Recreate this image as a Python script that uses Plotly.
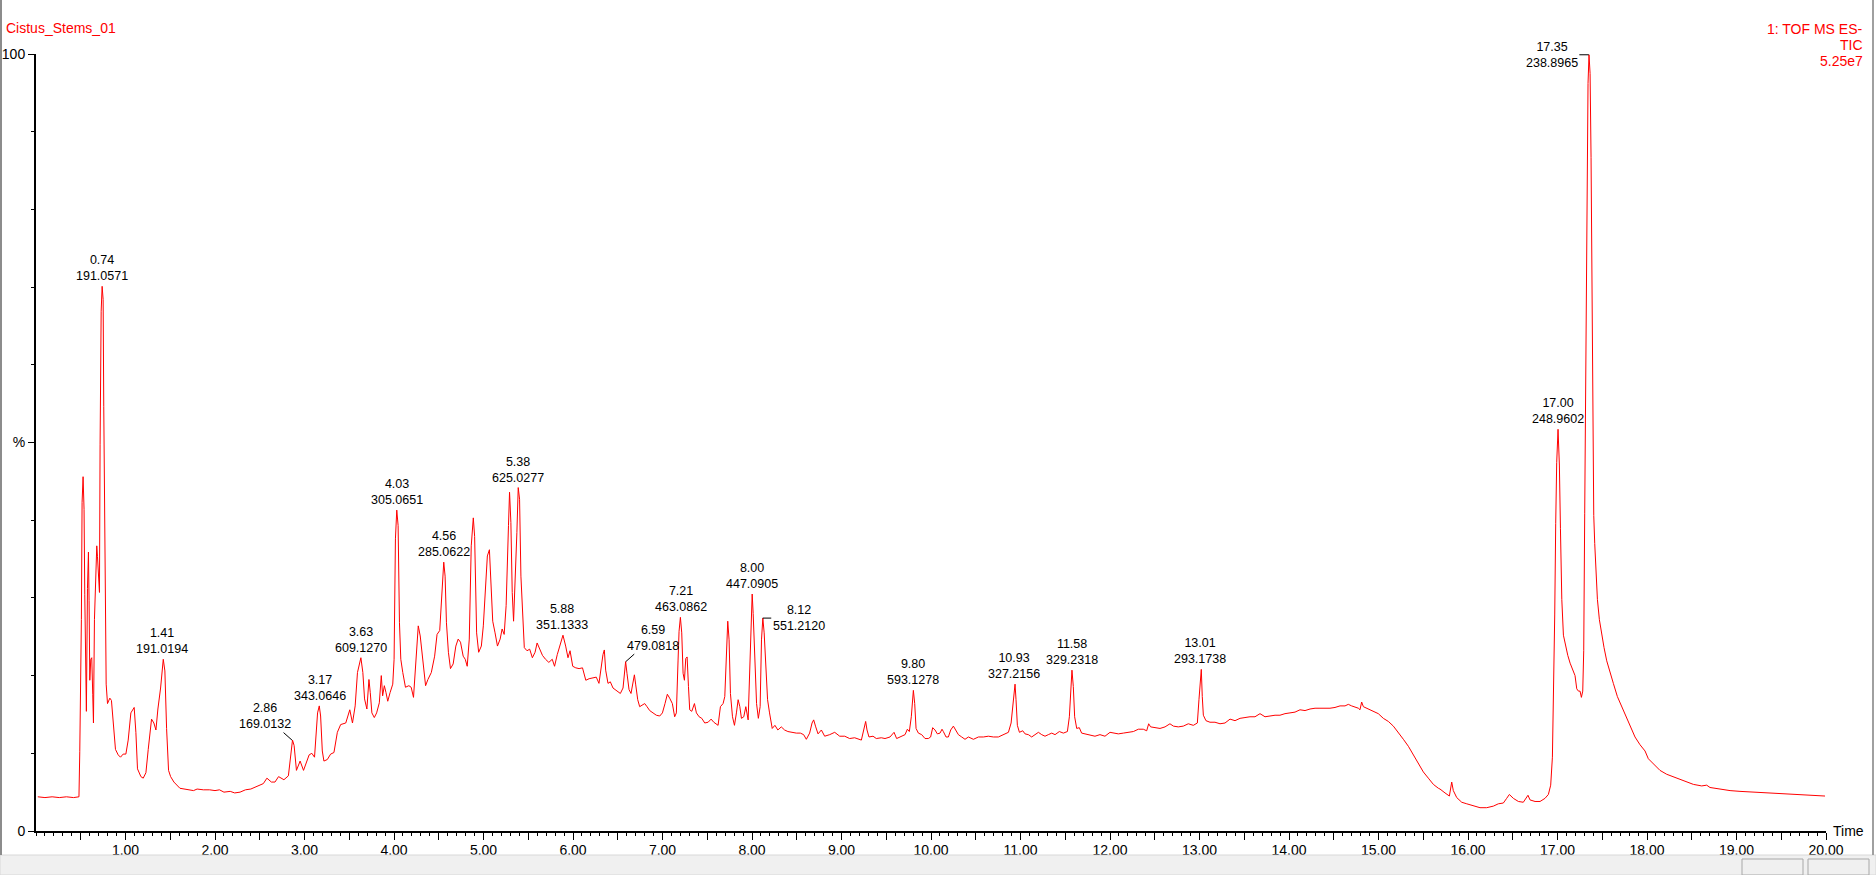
import plotly.graph_objects as go

# ---------- data ----------
rt_min = [
    0.02, 0.10, 0.18, 0.26, 0.34, 0.42, 0.48, 0.489, 0.507, 0.515, 0.526, 0.537, 0.545, 0.556, 0.563,
    0.575, 0.586, 0.593, 0.601, 0.612, 0.623, 0.634, 0.642, 0.653, 0.668, 0.679, 0.687, 0.698, 0.709,
    0.716, 0.728, 0.739, 0.750, 0.757, 0.772, 0.784, 0.799, 0.825, 0.843, 0.862, 0.888, 0.918, 0.944,
    0.974, 1.004, 1.030, 1.060, 1.097, 1.116, 1.134, 1.172, 1.198, 1.228, 1.254, 1.291, 1.317, 1.340,
    1.362, 1.392, 1.422, 1.440, 1.459, 1.481, 1.504, 1.541, 1.608, 1.70, 1.76, 1.80, 1.87, 1.94, 2.00,
    2.05, 2.10, 2.17, 2.22, 2.28, 2.34, 2.40, 2.47, 2.54, 2.58, 2.63, 2.67, 2.71, 2.77, 2.82, 2.866,
    2.884, 2.910, 2.951, 2.989, 3.052, 3.082, 3.112, 3.146, 3.165, 3.180, 3.199, 3.217, 3.255, 3.292,
    3.329, 3.367, 3.404, 3.461, 3.506, 3.536, 3.566, 3.592, 3.630, 3.652, 3.671, 3.697, 3.720, 3.735,
    3.753, 3.780, 3.806, 3.836, 3.858, 3.873, 3.892, 3.911, 3.930, 3.956, 3.986, 4.001, 4.016, 4.031,
    4.046, 4.061, 4.076, 4.098, 4.128, 4.166, 4.192, 4.218, 4.248, 4.271, 4.293, 4.323, 4.353, 4.379,
    4.417, 4.454, 4.481, 4.511, 4.533, 4.556, 4.571, 4.586, 4.608, 4.631, 4.661, 4.691, 4.717, 4.743,
    4.773, 4.796, 4.818, 4.841, 4.863, 4.886, 4.901, 4.923, 4.946, 4.976, 4.998, 5.021, 5.043, 5.066,
    5.081, 5.103, 5.129, 5.156, 5.186, 5.208, 5.231, 5.253, 5.279, 5.291, 5.306, 5.321, 5.336, 5.351,
    5.373, 5.388, 5.403, 5.418, 5.441, 5.456, 5.486, 5.516, 5.546, 5.576, 5.599, 5.629, 5.659, 5.693,
    5.730, 5.768, 5.794, 5.824, 5.861, 5.888, 5.918, 5.944, 5.967, 5.997, 6.031, 6.068, 6.106, 6.143,
    6.180, 6.218, 6.260, 6.290, 6.316, 6.335, 6.350, 6.365, 6.391, 6.417, 6.447, 6.484, 6.529, 6.559,
    6.577, 6.588, 6.603, 6.626, 6.648, 6.671, 6.686, 6.701, 6.723, 6.745, 6.775, 6.801, 6.827, 6.857,
    6.894, 6.931, 6.969, 6.999, 7.028, 7.054, 7.080, 7.110, 7.136, 7.155, 7.174, 7.185, 7.200, 7.215,
    7.230, 7.245, 7.260, 7.275, 7.290, 7.304, 7.327, 7.357, 7.379, 7.409, 7.439, 7.472, 7.510, 7.543,
    7.573, 7.621, 7.647, 7.677, 7.696, 7.714, 7.729, 7.744, 7.759, 7.782, 7.804, 7.826, 7.845, 7.864,
    7.882, 7.908, 7.931, 7.957, 7.976, 7.991, 8.002, 8.013, 8.028, 8.051, 8.071, 8.091, 8.106, 8.121,
    8.136, 8.151, 8.174, 8.196, 8.226, 8.256, 8.289, 8.327, 8.364, 8.401, 8.439, 8.495, 8.540, 8.577,
    8.607, 8.644, 8.671, 8.689, 8.712, 8.738, 8.775, 8.812, 8.868, 8.924, 8.980, 9.036, 9.091, 9.147,
    9.222, 9.248, 9.270, 9.285, 9.307, 9.352, 9.389, 9.445, 9.486, 9.542, 9.587, 9.616, 9.654, 9.710,
    9.736, 9.758, 9.780, 9.803, 9.818, 9.833, 9.859, 9.896, 9.933, 9.970, 9.996, 10.019, 10.045,
    10.071, 10.101, 10.123, 10.138, 10.168, 10.194, 10.220, 10.250, 10.280, 10.306, 10.343, 10.380,
    10.418, 10.474, 10.530, 10.585, 10.641, 10.697, 10.753, 10.809, 10.865, 10.895, 10.913, 10.928,
    10.939, 10.950, 10.965, 10.988, 11.025, 11.051, 11.088, 11.125, 11.162, 11.200, 11.237, 11.274,
    11.311, 11.349, 11.386, 11.434, 11.479, 11.524, 11.546, 11.561, 11.575, 11.590, 11.605, 11.628,
    11.657, 11.683, 11.720, 11.776, 11.832, 11.888, 11.944, 12.000, 12.037, 12.093, 12.149, 12.205,
    12.261, 12.317, 12.372, 12.410, 12.432, 12.454, 12.503, 12.559, 12.615, 12.670, 12.708, 12.763,
    12.819, 12.875, 12.931, 12.976, 12.994, 13.009, 13.020, 13.031, 13.043, 13.072, 13.117, 13.173,
    13.229, 13.285, 13.341, 13.397, 13.453, 13.508, 13.564, 13.620, 13.676, 13.732, 13.788, 13.844,
    13.899, 13.955, 14.011, 14.067, 14.123, 14.179, 14.235, 14.291, 14.346, 14.402, 14.458, 14.514,
    14.570, 14.626, 14.663, 14.700, 14.737, 14.775, 14.793, 14.812, 14.831, 14.868, 14.905, 14.950,
    14.998, 15.054, 15.110, 15.166, 15.222, 15.278, 15.334, 15.389, 15.445, 15.501, 15.557, 15.613,
    15.669, 15.687, 15.743, 15.792, 15.818, 15.836, 15.874, 15.930, 15.986, 16.060, 16.134, 16.209,
    16.283, 16.339, 16.395, 16.432, 16.462, 16.507, 16.563, 16.618, 16.648, 16.670, 16.693, 16.749,
    16.805, 16.860, 16.898, 16.924, 16.943, 16.954, 16.969, 16.980, 16.991, 17.006, 17.021, 17.033,
    17.048, 17.066, 17.089, 17.115, 17.141, 17.170, 17.196, 17.215, 17.234, 17.252, 17.267, 17.282,
    17.293, 17.304, 17.312, 17.319, 17.330, 17.341, 17.352, 17.364, 17.375, 17.382, 17.390, 17.397,
    17.405, 17.416, 17.431, 17.446, 17.468, 17.494, 17.520, 17.550, 17.587, 17.624, 17.669, 17.717,
    17.766, 17.810, 17.866, 17.922, 17.978, 18.015, 18.071, 18.145, 18.220, 18.294, 18.369, 18.443,
    18.518, 18.611, 18.667, 18.704, 18.816, 18.928, 19.039, 19.188, 19.337, 19.486, 19.635, 19.784,
    19.896, 19.989,
]
tic_pct = [
    4.4, 4.3, 4.4, 4.3, 4.4, 4.3, 4.4, 10.2, 27.2, 42.3, 45.6, 41.4, 30.4, 21.1, 15.4,
    31.2, 35.9, 29.7, 19.4, 22.1, 22.3, 17.6, 13.9, 27.2, 34.9, 36.7, 35.3, 32.9, 30.7,
    49.7, 66.9, 70.1, 68.4, 54.6, 31.7, 18.9, 16.4, 17.1, 16.8, 14.2, 10.5, 9.8, 9.5,
    9.9, 9.9, 11.7, 15.2, 15.9, 12.7, 8.0, 7.0, 6.8, 7.5, 10.5, 14.4, 13.9, 13.0,
    15.7, 18.4, 22.1, 20.6, 13.2, 7.8, 7.0, 6.3, 5.5, 5.3, 5.2, 5.4, 5.3, 5.3, 5.2,
    5.3, 5.0, 5.1, 4.9, 5.0, 5.3, 5.4, 5.7, 6.1, 6.8, 6.3, 6.3, 7.0, 6.6, 7.1, 11.7,
    11.0, 7.8, 9.0, 7.8, 9.8, 10.0, 9.5, 15.2, 16.1, 14.8, 10.3, 9.0, 9.2, 9.9,
    10.1, 12.7, 13.7, 13.9, 15.6, 13.9, 16.1, 20.4, 22.3, 20.4, 17.0, 15.7, 19.5, 17.8,
    15.2, 14.6, 15.2, 16.5, 20.0, 17.4, 18.7, 17.8, 16.7, 17.8, 18.9, 22.1, 37.6, 41.3,
    39.3, 26.8, 22.1, 20.4, 18.5, 18.7, 18.5, 17.2, 22.1, 26.4, 25.1, 22.1, 18.7, 19.5,
    20.4, 22.5, 25.3, 25.8, 30.3, 34.6, 32.8, 26.8, 23.0, 20.9, 21.5, 23.8, 24.7, 24.3,
    22.5, 22.1, 21.2, 24.7, 36.7, 40.3, 37.9, 25.5, 23.0, 23.8, 26.4, 30.3, 35.4, 36.2,
    31.5, 27.0, 25.5, 23.8, 24.7, 26.0, 25.3, 29.0, 39.3, 43.6, 39.7, 30.7, 27.0, 31.1,
    38.4, 44.2, 42.7, 32.8, 26.0, 23.6, 23.2, 23.4, 22.3, 23.0, 24.2, 23.4, 22.6, 22.1,
    21.7, 22.1, 21.2, 22.7, 24.2, 25.2, 23.8, 22.3, 23.2, 21.2, 21.0, 20.9, 21.0, 19.4,
    19.6, 19.7, 19.8, 19.0, 21.2, 22.7, 23.3, 20.7, 19.0, 19.2, 18.4, 18.1, 17.7, 18.4,
    20.7, 21.8, 20.3, 18.2, 17.7, 19.4, 20.1, 18.8, 16.9, 16.0, 16.2, 16.4, 16.0, 15.5,
    15.2, 14.9, 14.8, 15.2, 16.4, 17.6, 17.1, 16.4, 14.7, 15.2, 22.0, 25.7, 27.5, 25.5,
    20.3, 19.4, 22.2, 22.4, 18.6, 15.6, 15.4, 16.4, 15.2, 14.7, 14.5, 13.9, 14.0, 14.4,
    14.0, 13.6, 16.0, 16.4, 17.3, 22.9, 27.0, 24.6, 17.7, 14.7, 13.6, 15.2, 16.9, 16.0,
    14.5, 14.7, 16.0, 14.3, 21.2, 28.0, 30.5, 28.0, 22.9, 16.4, 14.5, 16.0, 24.6, 27.4,
    25.5, 21.2, 16.9, 15.2, 13.2, 13.6, 13.0, 13.4, 13.0, 12.8, 12.7, 12.6, 12.6, 12.4,
    11.8, 12.6, 13.9, 14.3, 13.4, 12.5, 13.0, 12.2, 12.4, 12.7, 12.2, 12.2, 11.9, 12.0,
    11.7, 13.0, 14.1, 13.0, 12.1, 12.2, 11.9, 12.0, 11.9, 12.1, 12.7, 11.9, 12.1, 12.4,
    13.1, 12.8, 14.7, 18.1, 16.4, 13.2, 12.6, 12.4, 11.9, 11.9, 12.1, 13.3, 13.0,
    12.5, 12.6, 13.1, 12.8, 12.1, 12.1, 13.0, 13.5, 12.9, 12.4, 12.1, 11.8,
    12.1, 11.8, 12.1, 12.1, 12.2, 12.1, 12.1, 12.4, 12.7, 13.9, 16.0, 18.1,
    18.9, 16.9, 13.6, 12.7, 12.9, 12.5, 12.4, 12.1, 12.4, 12.7, 12.4, 12.2,
    12.4, 12.6, 12.4, 12.8, 12.6, 12.8, 14.7, 17.7, 20.7, 18.6, 14.7, 13.2,
    13.3, 12.6, 12.5, 12.4, 12.2, 12.4, 12.2, 12.7, 12.6, 12.5, 12.6, 12.7,
    12.8, 13.1, 13.1, 12.9, 13.8, 13.4, 13.3, 13.2, 13.4, 13.8, 13.5, 13.4,
    13.5, 13.8, 13.6, 13.9, 16.9, 19.4, 20.8, 17.3, 14.9, 14.2, 14.0, 14.0,
    13.8, 13.9, 14.4, 14.2, 14.5, 14.6, 14.7, 14.7, 15.1, 14.7, 14.8, 14.9,
    14.9, 15.1, 15.2, 15.3, 15.6, 15.5, 15.7, 15.8, 15.8, 15.8, 15.8, 15.9,
    16.1, 16.1, 16.3, 16.1, 16.0, 15.8, 15.6, 16.6, 16.0, 15.8, 15.6, 15.4,
    15.1, 14.5, 14.1, 13.5, 12.7, 11.8, 10.9, 9.8, 8.7, 7.6, 6.8, 6.0,
    5.5, 5.4, 4.9, 4.5, 6.3, 5.2, 4.3, 3.7, 3.5, 3.2, 3.0, 3.0,
    3.2, 3.5, 3.6, 4.2, 4.7, 4.2, 3.8, 3.7, 4.2, 4.6, 4.0, 3.8,
    3.8, 4.2, 4.7, 5.9, 9.5, 16.7, 27.8, 39.6, 47.4, 51.7, 47.1, 38.9,
    29.8, 25.2, 23.9, 22.6, 21.6, 20.6, 20.0, 18.3, 18.0, 18.0, 17.2, 18.0,
    23.2, 40.9, 56.0, 69.7, 87.7, 96.2, 99.9, 97.5, 86.7, 74.3, 56.0, 46.5,
    40.6, 37.0, 33.7, 29.8, 27.2, 25.2, 23.6, 21.9, 20.3, 19.0, 17.3, 16.0,
    14.7, 13.4, 12.1, 11.1, 10.3, 9.3, 8.6, 7.8, 7.3, 7.0, 6.6, 6.3,
    6.0, 5.8, 5.9, 5.6, 5.4, 5.2, 5.1, 5.0, 4.9, 4.8, 4.7, 4.6,
    4.5, 4.5,
]

# labelled peaks: retention time and base-peak m/z
peak_rt = [0.74, 1.41, 2.86, 3.17, 3.63, 4.03, 4.56, 5.38, 5.88, 6.59,
           7.21, 8.00, 8.12, 9.80, 10.93, 11.58, 13.01, 17.00, 17.35]
peak_mz = ["191.0571", "191.0194", "169.0132", "343.0646", "609.1270", "305.0651",
           "285.0622", "625.0277", "351.1333", "479.0818", "463.0862", "447.0905",
           "551.2120", "593.1278", "327.2156", "329.2318", "293.1738", "248.9602",
           "238.8965"]

x_tick_labels = ["1.00", "2.00", "3.00", "4.00", "5.00", "6.00", "7.00", "8.00", "9.00", "10.00",
                 "11.00", "12.00", "13.00", "14.00", "15.00", "16.00", "17.00", "18.00", "19.00", "20.00"]
y_tick_labels = ["0", "%", "100"]

sample_name = "Cistus_Stems_01"
header_lines = ["1: TOF MS ES-", "TIC", "5.25e7"]

# ---------- layout helpers ----------
W, H = 1876, 875
L, R, T, B = 36, 50, 54, 44
FONT = "Arial, 'Liberation Sans', sans-serif"
RED = "#ff0000"


def px_x(px):
    return (px - L) / (W - L - R)


def px_y(py):
    return (H - B - py) / (H - T - B)


def peak_height(rt):
    return max(v for t, v in zip(rt_min, tic_pct) if abs(t - rt) <= 0.03)


# label offsets (pixels) for labels drawn with a leader line / bar
leader = {2.86: (-27, -24), 6.59: (27, -24), 8.12: (36, 0), 17.35: (-37, 0)}

fig = go.Figure()
fig.add_trace(go.Scatter(x=rt_min, y=tic_pct, mode="lines",
                         line=dict(color=RED, width=1), hoverinfo="skip"))

annotations = []
for rt, mz in zip(peak_rt, peak_mz):
    txt = f"{rt:.2f}<br>{mz}"
    y = peak_height(rt)
    if rt in leader:
        ax, ay = leader[rt]
        annotations.append(dict(x=rt, y=y, text=txt, showarrow=True, arrowhead=0,
                                arrowwidth=1, arrowcolor="black", ax=ax, ay=ay,
                                standoff=0, font=dict(size=12.5, color="black", family=FONT)))
    else:
        annotations.append(dict(x=rt, y=y, text=txt, showarrow=False, xanchor="center",
                                yanchor="bottom", yshift=1,
                                font=dict(size=12.5, color="black", family=FONT)))

annotations.append(dict(xref="paper", yref="paper", x=px_x(4), y=px_y(28), text=sample_name,
                        showarrow=False, xanchor="left", yanchor="middle",
                        font=dict(size=14, color=RED, family=FONT)))
for i, line in enumerate(header_lines):
    annotations.append(dict(xref="paper", yref="paper", x=px_x(1865), y=px_y(29 + 16 * i),
                            text=line, showarrow=False, xanchor="right", yanchor="middle",
                            font=dict(size=14, color=RED, family=FONT)))
annotations.append(dict(xref="paper", yref="paper", x=px_x(1831), y=px_y(831), text="Time",
                        showarrow=False, xanchor="left", yanchor="middle",
                        font=dict(size=14, color="black", family=FONT)))

# window chrome: borders and status bar
shapes = [
    dict(type="rect", xref="paper", yref="paper", x0=px_x(0), x1=px_x(W), y0=px_y(855), y1=px_y(H),
         fillcolor="#f0f0f0", line=dict(color="#d8d8d8", width=1)),
    dict(type="rect", xref="paper", yref="paper", x0=px_x(1742), x1=px_x(1803), y0=px_y(859), y1=px_y(H),
         fillcolor="#f0f0f0", line=dict(color="#a8a8a8", width=1)),
    dict(type="rect", xref="paper", yref="paper", x0=px_x(1808), x1=px_x(1869), y0=px_y(859), y1=px_y(H),
         fillcolor="#f0f0f0", line=dict(color="#a8a8a8", width=1)),
    dict(type="line", xref="paper", yref="paper", x0=px_x(1), x1=px_x(1), y0=px_y(0), y1=px_y(855),
         line=dict(color="#8c8c8c", width=2)),
    dict(type="line", xref="paper", yref="paper", x0=px_x(1873), x1=px_x(1873), y0=px_y(0), y1=px_y(855),
         line=dict(color="#a0a0a0", width=2)),
]

x_tick_vals = [float(s) for s in x_tick_labels]
half_ticks = [v - 0.5 for v in x_tick_vals] + [x_tick_vals[-1]]
tickvals = sorted(set(x_tick_vals + half_ticks))
ticktext = [f"{v:.2f}" if v in x_tick_vals else "" for v in tickvals]

fig.update_layout(
    width=W, height=H, margin=dict(l=L, r=R, t=T, b=B, pad=0),
    template="none", paper_bgcolor="white", plot_bgcolor="white",
    showlegend=False, annotations=annotations, shapes=shapes,
    font=dict(family=FONT, size=14, color="black"),
    xaxis=dict(range=[0, 20], showline=True, linewidth=2, linecolor="black", mirror=False,
               ticks="outside", ticklen=7, tickwidth=1, tickcolor="black",
               tickmode="array", tickvals=tickvals, ticktext=ticktext,
               ticklabelstandoff=-2,
               showgrid=False, zeroline=False, automargin=False,
               tickfont=dict(size=14, family=FONT, color="black"),
               minor=dict(tick0=0, dtick=0.1, ticks="outside", ticklen=3, tickwidth=1,
                          tickcolor="black", showgrid=False)),
    yaxis=dict(range=[0, 100], showline=True, linewidth=2, linecolor="black",
               ticks="outside", ticklen=6, tickwidth=1, tickcolor="black",
               tickmode="array", tickvals=[0, 50, 100], ticktext=y_tick_labels,
               showgrid=False, zeroline=False, automargin=False,
               tickfont=dict(size=14, family=FONT, color="black"),
               minor=dict(tick0=0, dtick=10, ticks="outside", ticklen=3, tickwidth=1,
                          tickcolor="black", showgrid=False)),
)

fig.write_html("out.html", config={"displayModeBar": False},
               post_script="document.body.style.margin='0';document.body.style.overflow='hidden';")
